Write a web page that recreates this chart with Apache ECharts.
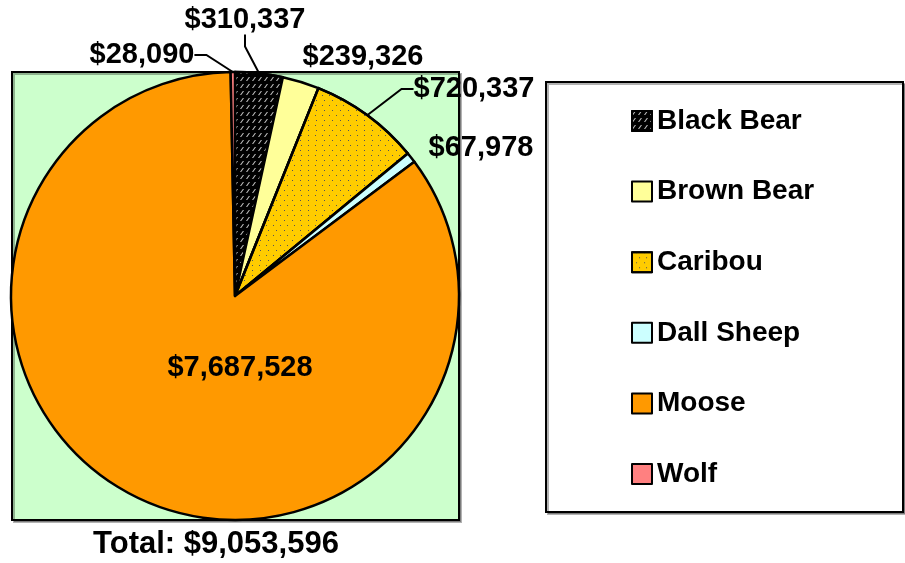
<!DOCTYPE html>
<html>
<head>
<meta charset="utf-8">
<script src="https://cdn.jsdelivr.net/npm/echarts@6/dist/echarts.min.js"></script>
<style>
html, body { margin: 0; padding: 0; background: #ffffff; }
#chart { width: 905px; height: 563px; }
</style>
</head>
<body>
<div id="chart"></div>
<script>
// Harvest value by species (USD)
const categories = ['Black Bear', 'Brown Bear', 'Caribou', 'Dall Sheep', 'Moose', 'Wolf'];
const values = [310337, 239326, 720337, 67978, 7687528, 28090];

// Styling, kept apart from the data
const sliceColors = ['#000000', '#FFFF99', '#FFCC00', '#CCFFFF', '#FF9900', '#FF8080'];
const labelCenters = [[245, 20], [363, 57], [474, 89], [481, 148], [240, 368], [142, 55]];
const showLeader = [true, false, true, false, false, true];

const FONT = '"Liberation Sans", Arial, Helvetica, sans-serif';
const money = v => '$' + v.toLocaleString('en-US');
const total = values.reduce((a, b) => a + b, 0);

const decals = [
  { // short white slashes on black
    symbol: 'path://M0,10 L3,10 L10,0 L7,0 Z',
    symbolSize: 1,
    symbolKeepAspect: false,
    color: 'rgba(255,255,255,0.75)',
    backgroundColor: null,
    dashArrayX: [4, 2],
    dashArrayY: [4, 3]
  },
  null,
  { // fine dark dots on yellow
    symbol: 'rect',
    symbolSize: 1,
    color: '#555555',
    dashArrayX: [[1, 6], [0, 3.5, 1, 2.5]],
    dashArrayY: [1, 4]
  },
  null, null, null
];

const seriesData = categories.map((name, i) => {
  const item = {
    name: name,
    value: values[i],
    itemStyle: { color: sliceColors[i] },
    labelLine: { show: showLeader[i] }
  };
  if (decals[i]) item.itemStyle.decal = decals[i];
  return item;
});

const chart = echarts.init(document.getElementById('chart'), null, { renderer: 'canvas' });

chart.setOption({
  animation: false,
  backgroundColor: '#ffffff',
  graphic: [
    { // plot area
      type: 'rect', z: 0,
      shape: { x: 12, y: 72, width: 447, height: 448 },
      style: { fill: '#CCFFCC', stroke: '#000000', lineWidth: 2,
               shadowColor: 'rgba(0,0,0,0.3)', shadowOffsetX: 2, shadowOffsetY: 2 }
    },
    { // legend frame
      type: 'rect', z: 0,
      shape: { x: 546, y: 82, width: 357, height: 430 },
      style: { fill: '#ffffff', stroke: '#000000', lineWidth: 2,
               shadowColor: 'rgba(0,0,0,0.3)', shadowOffsetX: 2, shadowOffsetY: 2 }
    },
    {
      type: 'text', z: 5,
      x: 216, y: 544,
      style: {
        text: 'Total: ' + money(total),
        align: 'center', verticalAlign: 'middle',
        fontSize: 31, fontWeight: 'bold', fontFamily: FONT, fill: '#000000'
      }
    }
  ],
  legend: {
    orient: 'vertical',
    left: 626,
    top: 102,
    itemWidth: 20,
    itemHeight: 20,
    itemGap: 42.6,
    icon: 'rect',
    selectedMode: false,
    itemStyle: { borderColor: '#000000', borderWidth: 2 },
    textStyle: { fontSize: 28, fontWeight: 'bold', fontFamily: FONT, color: '#000000', lineHeight: 28 },
    data: categories
  },
  series: [{
    type: 'pie',
    center: [235, 296],
    radius: 224,
    startAngle: 90,
    clockwise: true,
    avoidLabelOverlap: false,
    itemStyle: { borderColor: '#000000', borderWidth: 2.5 },
    emphasis: { disabled: true },
    label: {
      show: true,
      formatter: p => money(p.value),
      fontSize: 29,
      fontWeight: 'bold',
      fontFamily: FONT,
      color: '#000000'
    },
    labelLine: {
      show: true,
      length: 12,
      length2: 12,
      lineStyle: { color: '#000000', width: 2 }
    },
    labelLayout: params => {
      const c = labelCenters[params.dataIndex];
      return { x: c[0], y: c[1], align: 'center', verticalAlign: 'middle' };
    },
    data: seriesData
  }]
});
</script>
</body>
</html>
